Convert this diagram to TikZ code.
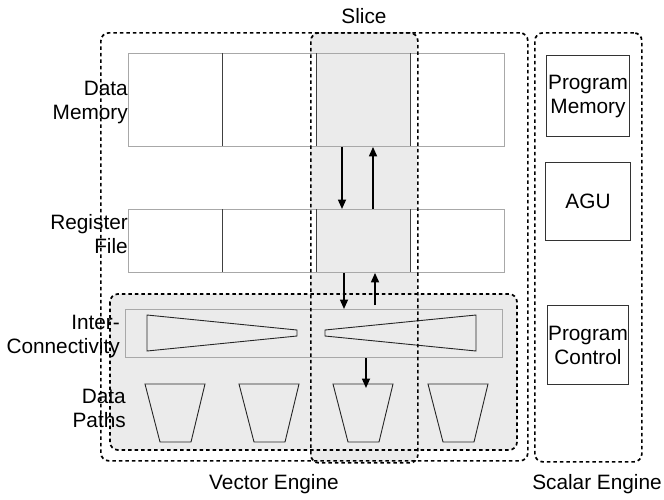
\documentclass[tikz,border=0pt]{standalone}
\usepackage{fontspec}
\setmainfont{Liberation Sans}
\usetikzlibrary{arrows.meta,calc}
\definecolor{panel}{HTML}{EBEBEB}
\definecolor{edge}{HTML}{A8A8A8}
\begin{document}
\begin{tikzpicture}[x=1pt,y=-1pt,
  dotbox/.style={draw=black,line width=1.7pt,dash pattern=on 3.5pt off 3pt,rounded corners=8pt},
  lbl/.style={font=\fontsize{20.8}{24}\selectfont,align=right,anchor=east,inner sep=0pt},
  title/.style={font=\fontsize{20.8}{24}\selectfont,inner sep=0pt},
  rowbox/.style={draw=edge,line width=0.9pt,anchor=north west,inner sep=0pt},
  divider/.style={draw=black!75,line width=1pt},
  ctrlbox/.style={draw=black!80,line width=1pt,anchor=north west,inner sep=0pt,align=center,font=\fontsize{20.8}{24}\selectfont},
  outline/.style={draw=black!85,line width=0.9pt},
  flow/.style={line width=1.7pt,-{Triangle[length=9.5pt,width=8pt]}}
]
\useasboundingbox (0,0) rectangle (664,499);

% inner gray panel (interconnect + data paths)
\path[fill=panel,rounded corners=8pt] (110,294) rectangle (517,450);
% slice fill
\path[fill=panel,rounded corners=8pt] (310,32) rectangle (417,462);

% data memory row
\path[fill=white] (128,53) rectangle (316,146);
\path[fill=white] (410,53) rectangle (504,146);
\node[rowbox,minimum width=376pt,minimum height=93pt] (dm) at (128,53) {};
\draw[divider] (222,53) -- (222,146);
\draw[divider] (316,53) -- (316,146);
\draw[divider] (410,53) -- (410,146);

% register file row
\path[fill=white] (128,209) rectangle (316,272);
\path[fill=white] (410,209) rectangle (504,272);
\node[rowbox,minimum width=376pt,minimum height=63pt] (rf) at (128,209) {};
\draw[divider] (222,209) -- (222,272);
\draw[divider] (316,209) -- (316,272);
\draw[divider] (410,209) -- (410,272);

% interconnect
\node[rowbox,fill=panel,minimum width=377pt,minimum height=48pt] (ic) at (125,309) {};
\draw[outline] (147,315) -- (147,351) -- (297,336) -- (297,330) -- cycle;
\draw[outline] (325,330) -- (325,336) -- (476,351) -- (476,315) -- cycle;

% data paths
\draw[outline] (145,384) -- (205,384) -- (191,442) -- (160,442) -- cycle;
\draw[outline] (239,384) -- (299,384) -- (285,442) -- (254,442) -- cycle;
\draw[outline] (333,384) -- (393,384) -- (379,442) -- (348,442) -- cycle;
\coordinate (dp3) at (366,388);
\draw[outline] (428,384) -- (488,384) -- (474,442) -- (443,442) -- cycle;

% dotted outlines
\draw[dotbox] (110,294) rectangle (517,450);
\node[dotbox,anchor=north west,minimum width=427pt,minimum height=428pt] (vec) at (100,32) {};
\node[dotbox,anchor=north west,minimum width=107pt,minimum height=430pt] (slice) at (310,32) {};
\node[dotbox,anchor=north west,minimum width=107pt,minimum height=429pt] (scal) at (534,32) {};

% arrows
\draw[flow] (dm.south -| 342,0) -- (rf.north -| 342,0);
\draw[flow] (rf.north -| 373,0) -- (dm.south -| 373,0);
\draw[flow] (rf.south -| 344,0) -- (ic.north -| 344,0);
\draw[flow] ($(ic.north -| 375,0)+(0,-4)$) -- (rf.south -| 375,0);
\draw[flow] (ic.south -| dp3) -- (dp3);

% scalar engine boxes
\node[ctrlbox,minimum width=83pt,minimum height=81pt] (pm) at (546,55) {Program\\Memory};
\node[ctrlbox,minimum width=85pt,minimum height=78pt] (agu) at (545,162) {AGU};
\node[ctrlbox,minimum width=81pt,minimum height=79pt] (pc) at (547,305) {Program\\Control};

% labels
\node[lbl] (ldm) at (128,102) {Data\\Memory};
\node[lbl] (lrf) at (128,234) {Register\\File};
\node[lbl] (lic) at (120,336) {Inter-\\Connectivity};
\node[lbl] (ldp) at (126,408) {Data\\Paths};
\node[title] (lsl) at (364,16) {Slice};
\node[title] (lve) at (274,484) {Vector Engine};
\node[title] (lse) at (597,484) {Scalar Engine};
\end{tikzpicture}
\end{document}
